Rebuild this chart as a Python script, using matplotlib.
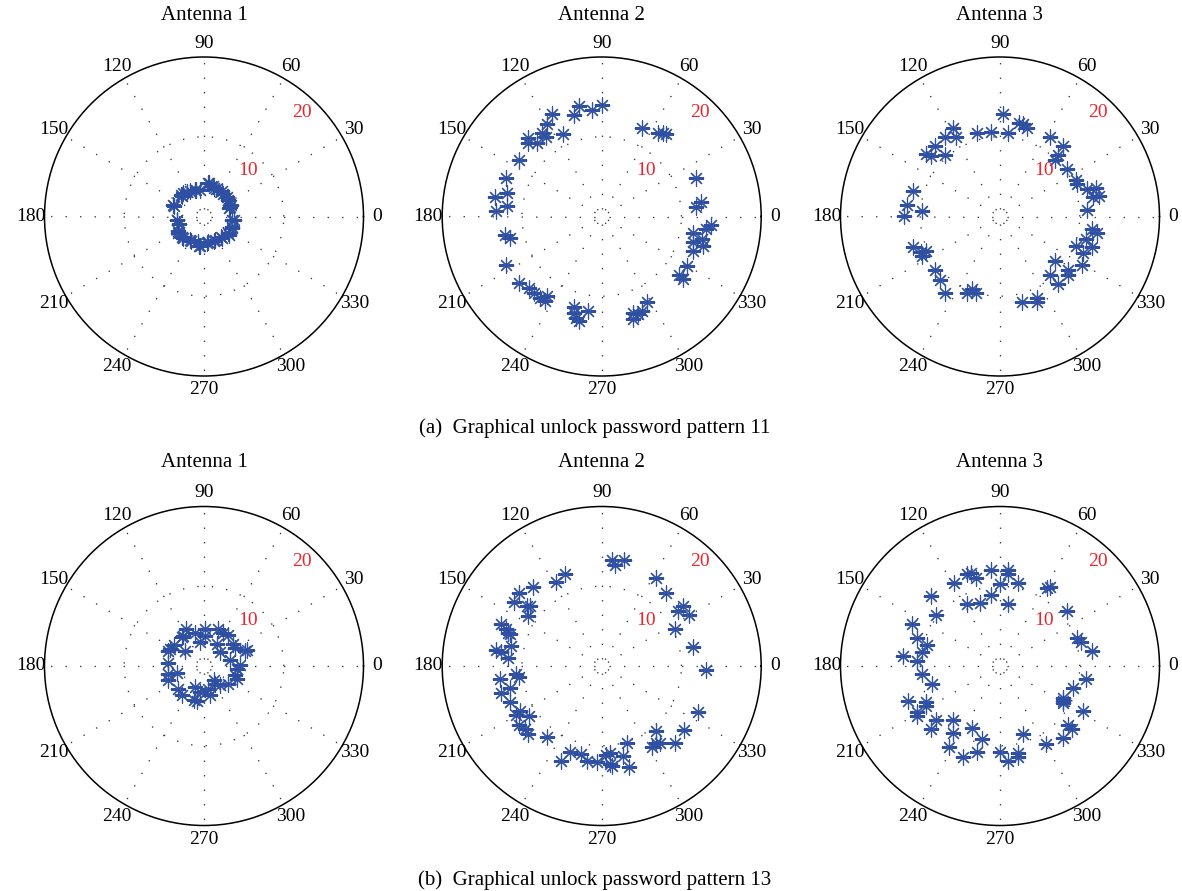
import numpy as np
import matplotlib
matplotlib.use("Agg")
import matplotlib.pyplot as plt

plt.rcParams["font.family"] = ["Liberation Serif", "DejaVu Serif"]

# ---- pattern 11 (angles in degrees, radius) ----
P11_ANT1_THETA = [82.7, 98, 109, 118.6, 132, 137.7, 160, 187.6, 196, 212.5, 225.5, 239.4, 257.4,
                  262.3, 279.7, 295, 310, 325, 339.5, 352.7, 20.4, 33.9, 50, 65.7, 73,
                  137, 123.7, 107, 81.5, 70.6, 53.7, 40.6, 23.6, 18.4, 353.7, 337.6, 323.7,
                  310, 291.8, 277, 260.3, 242, 223.6, 209.4, 187, 160.4]
P11_ANT1_RHO = [4.25, 3.4, 3.5, 3.65, 3.9, 3.8, 4.2, 3.45, 3.2, 3.8, 3.7, 3.4, 3.25,
                3.75, 3.2, 3.26, 3.4, 3.7, 3.7, 3.6, 3.5, 3.7, 3.75, 3.8, 4.0,
                3.98, 3.76, 3.5, 4.2, 3.76, 3.9, 3.84, 3.64, 3.3, 3.77, 3.83, 3.9,
                3.55, 3.37, 3.36, 3.7, 3.54, 3.74, 3.8, 3.36, 3.98]

P11_ANT2_THETA = [90, 95, 101.6, 105, 116, 120.5, 125.5, 125, 115, 133.5, 135, 131.5, 145.6,
                  158, 166, 169.4, 173.6, 176.8, 190.7, 193.3, 207, 218.9, 224.3, 228.3,
                  233, 236.3, 235.5, 253, 254, 257.8, 262, 255.8, 287.8, 287, 290.6, 298,
                  292.8, 323, 322.5, 329.8, 339, 344.7, 349.7, 343.5, 347.4, 353, 355.7,
                  6, 8.5, 22, 56, 53.7, 52.3, 65.8]
P11_ANT2_RHO = [13.96, 13.4, 14.1, 13.2, 14.3, 13.5, 12.9, 12.1, 11.4, 13.5, 13.1, 12.25, 12.5,
                12.9, 12.3, 13.6, 12.0, 13.3, 12.3, 11.8, 13.5, 13.3, 12.8, 12.8,
                12.8, 12.8, 12.1, 11.85, 12.6, 13.4, 12.0, 13.1, 12.7, 13.5, 13.0, 12.1,
                12.9, 12.1, 12.9, 12.4, 12.2, 11.9, 11.6, 13.2, 12.9, 13.2, 13.8,
                11.9, 12.6, 12.8, 12.7, 13.0, 13.1, 12.2]

P11_ANT3_THETA = [88.5, 78.4, 75.9, 73, 84.3, 96.3, 105.5, 117.7, 119, 124.5, 132.5, 139.7,
                  138.8, 131.7, 58, 48.1, 46.6, 45.9, 35.1, 25.6, 22.7, 17.5, 16.3, 12.1,
                  11.4, 4.4, 352.2, 350.2, 345.3, 338.6, 336.3, 341.7, 329.3, 321.7, 319.5,
                  320.7, 310.6, 310.5, 294.2, 293.1, 284.1, 248.9, 252.5, 246.5, 234.3,
                  226.5, 219.7, 199.1, 207, 205.3, 204, 179.6, 173.2, 175.6, 164]
P11_ANT3_RHO = [12.8, 12.0, 11.9, 11.6, 10.5, 10.6, 10.9, 12.6, 11.4, 12.1, 12.0, 12.1,
                11.5, 10.3, 11.8, 11.9, 10.6, 9.9, 10.3, 10.6, 10.5, 11.4, 12.6, 11.9,
                12.7, 10.9, 11.7, 12.3, 11.2, 10.3, 11.4, 12.2, 12.0, 10.9, 11.2,
                8.9, 9.6, 11.2, 11.2, 11.7, 11.1, 9.8, 10.0, 10.45, 11.8,
                10.9, 10.6, 11.5, 11.0, 10.2, 10.9, 12.1, 11.7, 9.8, 11.4]

# ---- pattern 13 ----
P13_ANT1_THETA = [115.7, 124, 127, 105, 88.5, 88, 99.5, 69, 59.6, 51.6, 60.4, 41.2, 37.3,
                  30.6, 19.8, 153, 146, 141.7, 176, 192, 194.4, 201.9, 221.4, 232.7, 246.8,
                  261, 258, 281.6, 280.8, 305.8, 309.6, 323, 12.3, 355.3, 1, 343.2, 338.8,
                  301, 20.2, 157.7, 254]
P13_ANT1_RHO = [5.2, 4.6, 4.6, 4.3, 4.7, 3.8, 3.0, 5.0, 4.8, 4.9, 3.2, 2.66, 4.6,
                4.5, 5.5, 4.8, 4.6, 3.0, 4.5, 4.6, 3.5, 4.8, 4.3, 4.6, 2.86,
                3.3, 4.5, 3.7, 2.9, 2.2, 3.1, 3.8, 3.3, 4.1, 4.5, 4.05, 4.4,
                2.7, 5.7, 4.9, 4.5]

P13_ANT2_THETA = [84.6, 82.5, 78.2, 111.7, 118.6, 130.9, 138.4, 143.6, 141.3, 140, 146,
                  157.3, 159.2, 160.5, 160.7, 167.7, 171.6, 172, 175, 185.6, 187.5, 187.5,
                  193.7, 194.7, 201.3, 209.5, 208.7, 214.5, 215.6, 219.3, 222.7, 232.5,
                  247, 249.8, 256.5, 261.5, 267.4, 272.6, 275.5, 275.7, 275, 283.5, 285.3,
                  288.3, 301.7, 305.6, 306.9, 309.9, 313.7, 322.1, 334.7, 357.6, 11.7,
                  26.6, 35.7, 36.6, 30.2, 48.7, 58.1]
P13_ANT2_RHO = [13.4, 12.8, 13.6, 12.4, 12.0, 13.1, 13.8, 13.6, 12.0, 11.8, 11.2,
                13.7, 12.9, 12.5, 12.2, 11.7, 13.4, 12.8, 11.8, 10.8, 10.5, 12.8,
                11.8, 13.1, 12.3, 12.4, 11.7, 11.0, 12.7, 12.5, 12.5, 11.3,
                13.0, 11.5, 11.3, 12.1, 12.0, 11.2, 10.9, 12.6, 12.3, 11.6, 13.1,
                10.2, 11.9, 11.8, 12.1, 10.7, 13.3, 13.1, 13.4, 13.1, 11.7,
                10.25, 11.8, 12.7, 12.7, 12.2, 13.0]

P13_ANT3_THETA = [85.1, 84.8, 95.5, 90, 77.6, 107.4, 109.9, 105.2, 119.2, 97.4, 108, 118.4,
                  82.4, 134.7, 141.2, 154.2, 161.6, 163.7, 169.6, 174.1, 176.6, 186, 194.5,
                  201, 205.7, 208.4, 209.2, 211, 220.2, 222.5, 229.3, 235, 237.5, 247.7,
                  245.6, 255.8, 254.9, 270, 275, 282, 281.4, 288.4, 300.6, 311, 319.2,
                  318.8, 333.4, 329.3, 331, 343, 331.4, 351.7, 9.2, 16.6, 19.7, 39.6,
                  59.2, 57.7]
P13_ANT3_RHO = [12.1, 11.6, 12.1, 10.3, 10.7, 12.2, 12.3, 11.4, 11.9, 9.0, 8.3, 8.8,
                7.9, 12.3, 10.3, 12.2, 11.0, 9.6, 10.0, 12.2, 10.4, 9.8, 8.8,
                12.4, 10.3, 10.5, 11.9, 12.1, 10.5, 11.7, 9.0, 10.2, 12.0, 12.3,
                8.6, 9.4, 11.2, 10.8, 12.0, 11.1, 11.6, 9.0, 11.3, 12.0, 11.3,
                12.0, 8.85, 9.2, 9.0, 9.6, 11.8, 10.95, 11.7, 10.65, 10.3, 10.9,
                11.4, 11.7]

PANELS = [
    [(P11_ANT1_THETA, P11_ANT1_RHO), (P11_ANT2_THETA, P11_ANT2_RHO), (P11_ANT3_THETA, P11_ANT3_RHO)],
    [(P13_ANT1_THETA, P13_ANT1_RHO), (P13_ANT2_THETA, P13_ANT2_RHO), (P13_ANT3_THETA, P13_ANT3_RHO)],
]
TITLES = ["Antenna 1", "Antenna 2", "Antenna 3"]
CAPTIONS = ["(a)  Graphical unlock password pattern 11",
            "(b)  Graphical unlock password pattern 13"]
ANGLE_TICKS = list(range(0, 360, 30))
RMAX = 20

W, H = 1182, 891
STAR = "#2f4fa2"
GRID = "#333333"
DOTS = (0, (1, 10))

fig = plt.figure(figsize=(W / 100, H / 100), dpi=100, facecolor="white")

col_x = [204, 601.7, 1000]
row_y = [216.5, 666]
title_y = [15, 463]
caption_y = [428, 880]
rad_px = 159.5

for r, row in enumerate(PANELS):
    for c, (theta, rho) in enumerate(row):
        cx, cy = col_x[c], row_y[r]
        ax = fig.add_axes([(cx - rad_px) / W, 1 - (cy + rad_px) / H,
                           2 * rad_px / W, 2 * rad_px / H], projection="polar")
        ax.set_ylim(0, RMAX)
        ax.set_xticks([])
        ax.set_yticks([])
        ax.grid(False)
        ax.spines["polar"].set_linewidth(1.1)

        # dotted spokes (starting just off centre) and the ring at 10
        for a in ANGLE_TICKS:
            ax.plot([np.deg2rad(a)] * 2, [0.9, RMAX], color=GRID, lw=0.95, ls=DOTS)
        ring = np.linspace(0, 2 * np.pi, 361)
        ax.plot(ring, np.full_like(ring, 10), color=GRID, lw=0.95, ls=DOTS)

        ax.plot(np.deg2rad(theta), rho, ls="none", marker=(8, 2, 0), ms=11,
                mec=STAR, mew=0.85, color=STAR)

        for a in ANGLE_TICKS:
            ax.text(np.deg2rad(a), 21.75, str(a), ha="center", va="center",
                    fontsize=14, clip_on=False)
        ax.text(np.deg2rad(46), 8.0, "10", color="#e8262d", ha="center", va="center", fontsize=14)
        ax.text(np.deg2rad(46.7), 17.95, "20", color="#e8262d", ha="center", va="center", fontsize=14)

        fig.text(cx / W, 1 - title_y[r] / H, TITLES[c], ha="center", va="center", fontsize=15)

    fig.text(595 / W, 1 - caption_y[r] / H, CAPTIONS[r], ha="center", va="center", fontsize=15)

fig.savefig("out.png", dpi=100, facecolor="white")
